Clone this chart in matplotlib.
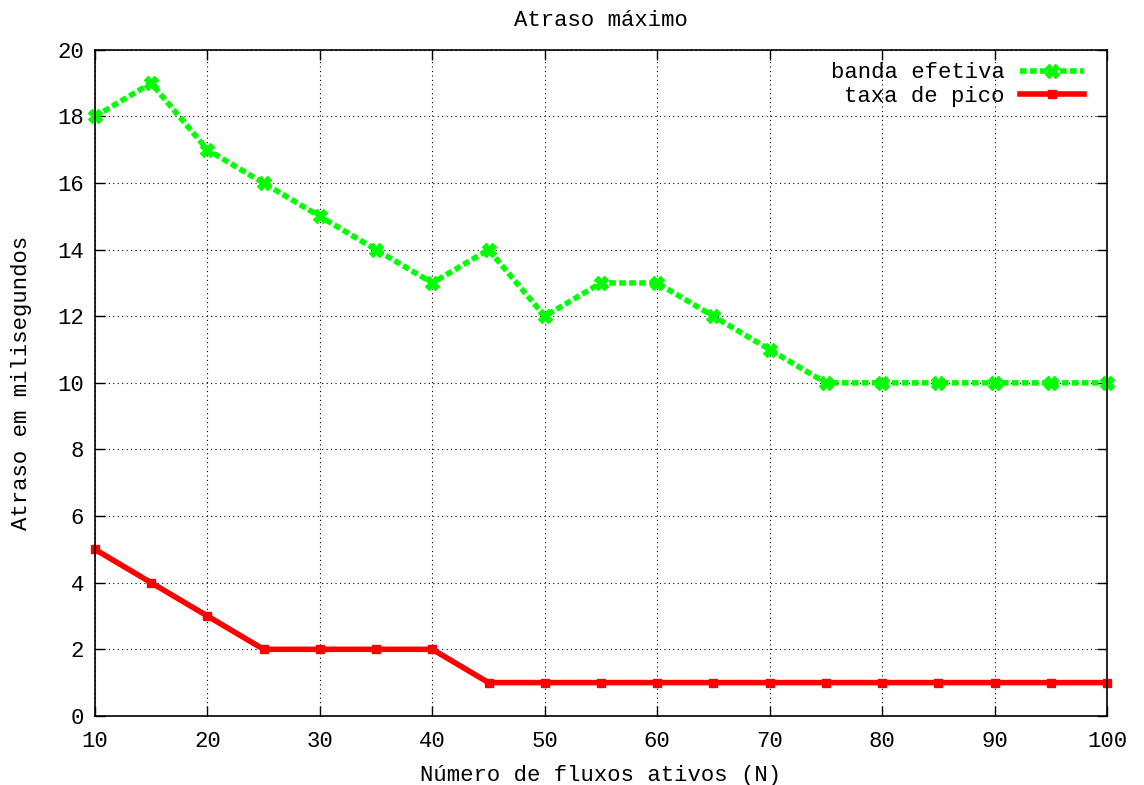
import matplotlib
matplotlib.use("Agg")
import matplotlib.pyplot as plt

plt.rcParams['font.family'] = ['Liberation Mono', 'DejaVu Sans Mono']

fluxos = list(range(10, 101, 5))
banda_efetiva = [18, 19, 17, 16, 15, 14, 13, 14, 12, 13, 13, 12, 11, 10, 10, 10, 10, 10, 10]
taxa_pico = [5, 4, 3, 2, 2, 2, 2, 1, 1, 1, 1, 1, 1, 1, 1, 1, 1, 1, 1]

fig = plt.figure(figsize=(11.44, 7.85), dpi=100)
ax = fig.add_axes([0.083, 0.088, 0.8847, 0.8485])

ax.plot(fluxos, banda_efetiva, color='#00ff00', lw=4, linestyle=(0, (1.2, 0.6)),
        marker='X', markersize=10, label='banda efetiva', clip_on=False)
ax.plot(fluxos, taxa_pico, color='#ff0000', lw=4,
        marker='s', markersize=5.5, label='taxa de pico', clip_on=False)

ax.set_xlim(10, 100)
ax.set_ylim(0, 20)
ax.set_xticks(range(10, 101, 10))
ax.set_yticks(range(0, 21, 2))
ax.tick_params(direction='in', top=True, right=True, length=7, width=1,
               labelsize=16, pad=8)
ax.tick_params(axis='x', pad=11)
ax.grid(True, color='black', linestyle=(0, (1, 3)), linewidth=0.8)
for s in ax.spines.values():
    s.set_linewidth(1.2)

ax.set_title('Atraso máximo', fontsize=16, pad=17)
ax.set_xlabel('Número de fluxos ativos (N)', fontsize=16, labelpad=9)
ax.set_ylabel('Atraso em milisegundos', fontsize=16, labelpad=18)

ax.legend(loc='upper right', bbox_to_anchor=(0.982, 0.988), frameon=False,
          markerfirst=False, fontsize=16, handlelength=2.9, handletextpad=0.7,
          borderaxespad=0, borderpad=0.2, labelspacing=0.12)

fig.savefig('out.png', dpi=100)
